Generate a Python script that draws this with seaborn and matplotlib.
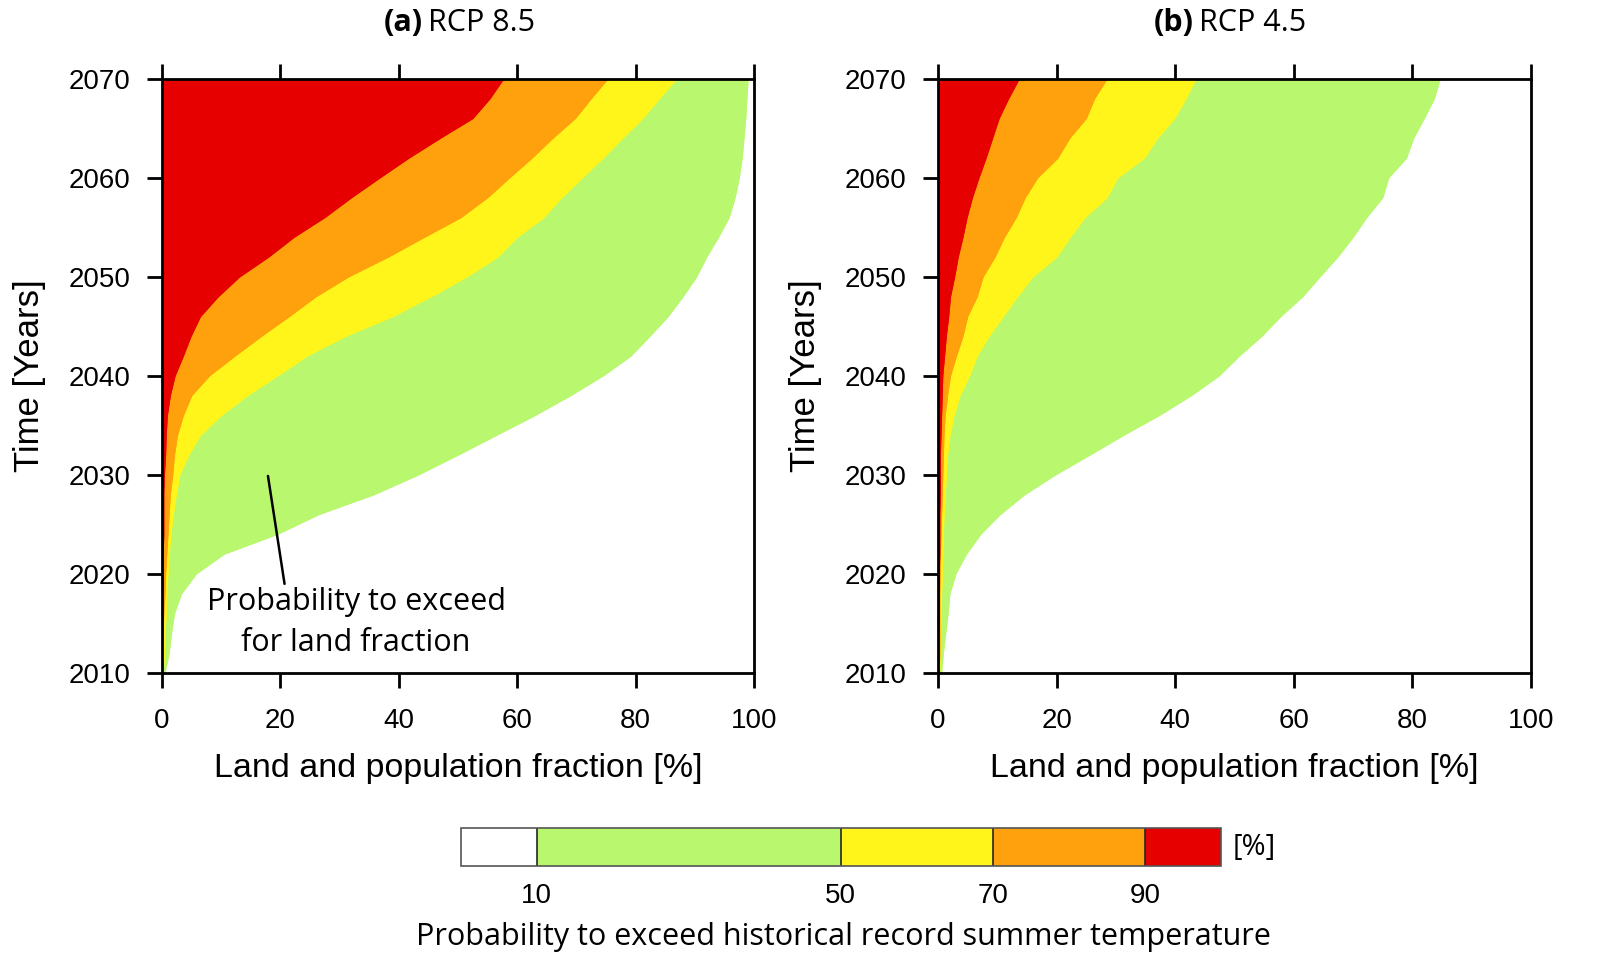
import numpy as np
import matplotlib
matplotlib.use("Agg")
import matplotlib.pyplot as plt
import matplotlib.colors as mcolors
import seaborn as sns

years = [2010, 2012, 2014, 2016, 2018, 2020, 2022, 2024, 2026, 2028, 2030,
         2032, 2034, 2036, 2038, 2040, 2042, 2044, 2046, 2048, 2050,
         2052, 2054, 2056, 2058, 2060, 2062, 2064, 2066, 2068, 2070]

# land fraction [%] where probability to exceed >= 10/50/70/90 %  -- RCP 8.5
rcp85_p10 = [0.5, 1.2, 1.6, 2.1, 3.3, 5.8, 10.5, 19.5, 26.5, 35.8, 43.3,
             50.0, 56.5, 63.0, 69.0, 74.5, 79.2, 82.4, 85.5, 88.0, 90.3,
             92.0, 94.0, 95.8, 96.8, 97.5, 98.0, 98.3, 98.6, 98.8, 99.0]
rcp85_p50 = [0.2, 0.4, 0.5, 0.7, 0.8, 1.0, 1.2, 1.5, 1.9, 2.4, 3.0,
             4.5, 6.5, 10.0, 14.4, 19.5, 24.5, 31.0, 39.0, 45.5, 51.5,
             56.7, 60.0, 64.5, 67.5, 71.0, 74.5, 77.8, 81.2, 84.0, 86.9]
rcp85_p70 = [0.0, 0.1, 0.2, 0.3, 0.5, 0.6, 0.8, 1.0, 1.2, 1.4, 1.8,
             2.1, 2.6, 3.6, 5.0, 8.0, 12.3, 16.8, 21.5, 26.0, 31.5,
             38.2, 44.3, 50.5, 55.0, 58.7, 62.5, 66.0, 69.8, 72.5, 75.3]
rcp85_p90 = [0.0, 0.0, 0.1, 0.1, 0.1, 0.2, 0.2, 0.3, 0.3, 0.3, 0.4,
             0.6, 0.7, 0.9, 1.4, 2.2, 3.6, 4.9, 6.5, 9.5, 13.1,
             18.0, 22.3, 27.5, 32.0, 36.8, 41.7, 47.0, 52.5, 55.4, 57.7]

# RCP 4.5
rcp45_p10 = [0.6, 0.9, 1.3, 1.7, 2.0, 3.0, 4.8, 7.2, 10.5, 14.6, 19.8,
             25.6, 31.3, 37.3, 42.7, 47.4, 50.8, 54.6, 57.8, 61.5, 64.4,
             67.4, 70.0, 72.3, 75.0, 76.0, 79.0, 80.2, 82.0, 83.7, 84.7]
rcp45_p50 = [0.3, 0.3, 0.4, 0.5, 0.6, 0.7, 0.8, 0.9, 1.0, 1.2, 1.4,
             1.6, 2.0, 2.7, 3.7, 5.3, 6.6, 8.6, 11.0, 13.4, 16.0,
             20.0, 22.3, 24.8, 28.5, 30.3, 34.8, 37.0, 39.9, 41.8, 43.5]
rcp45_p70 = [0.2, 0.3, 0.3, 0.3, 0.3, 0.4, 0.4, 0.5, 0.6, 0.7, 0.8,
             0.9, 1.0, 1.2, 1.6, 2.1, 3.1, 4.2, 5.0, 6.6, 7.6,
             9.6, 11.2, 13.2, 14.7, 16.8, 20.2, 22.2, 25.0, 26.4, 28.5]
rcp45_p90 = [0.1, 0.1, 0.1, 0.2, 0.2, 0.2, 0.3, 0.3, 0.3, 0.4, 0.4,
             0.4, 0.5, 0.6, 0.7, 0.8, 1.1, 1.4, 1.8, 2.1, 2.8,
             3.4, 4.2, 4.9, 5.8, 6.9, 8.1, 9.2, 10.3, 11.9, 13.7]

levels = [10, 50, 70, 90]
level_colors = ["#b9f86e", "#fff51a", "#ffa10c", "#e60000"]
x_ticks = [0, 20, 40, 60, 80, 100]
y_ticks = [2010, 2020, 2030, 2040, 2050, 2060, 2070]

sns.set_theme(style="ticks")
plt.rcParams['font.family'] = ['Liberation Sans', 'DejaVu Sans']
plt.rcParams['text.color'] = 'black'
plt.rcParams['axes.labelcolor'] = 'black'
plt.rcParams['xtick.color'] = 'black'
plt.rcParams['ytick.color'] = 'black'
title_font = ['Open Sans', 'DejaVu Sans']

fig = plt.figure(figsize=(16, 9.77), dpi=100)
ax1 = fig.add_axes([0.10125, 0.3112, 0.370, 0.608])
ax2 = fig.add_axes([0.58625, 0.3112, 0.3706, 0.608])

panels = [(ax1, [rcp85_p10, rcp85_p50, rcp85_p70, rcp85_p90]),
          (ax2, [rcp45_p10, rcp45_p50, rcp45_p70, rcp45_p90])]

for ax, bounds in panels:
    for b, col in zip(bounds, level_colors):
        ax.fill_betweenx(years, 0, b, color=col, lw=0, zorder=2)
        sns.lineplot(x=b, y=years, orient="y", color=col, lw=0.8, ax=ax,
                     zorder=2, estimator=None, sort=False)
    ax.set_xlim(0, 100)
    ax.set_ylim(2010, 2070)
    ax.set_xticks(x_ticks)
    ax.set_yticks(y_ticks)
    ax.tick_params(axis='both', direction='out', length=11, width=2,
                   labelsize=20, color='black', labelcolor='black')
    ax.tick_params(axis='y', pad=12)
    ax.tick_params(axis='x', top=True, labeltop=False, pad=14)
    for sp in ax.spines.values():
        sp.set_linewidth(2)
        sp.set_color('black')
        sp.set_zorder(5)
    ax.set_xlabel("Land and population fraction [%]", fontsize=24.5, labelpad=14)
    ax.set_ylabel("Time [Years]", fontsize=25, labelpad=16)

# panel titles
fig.text(0.2644, 0.9765, "(a)", fontsize=22, fontweight='bold', ha='right',
         va='center', family=title_font)
fig.text(0.2675, 0.9765, "RCP 8.5", fontsize=22, ha='left', va='center',
         family=title_font)
fig.text(0.7462, 0.9765, "(b)", fontsize=22, fontweight='bold', ha='right',
         va='center', family=title_font)
fig.text(0.7494, 0.9765, "RCP 4.5", fontsize=22, ha='left', va='center',
         family=title_font)

# annotation in panel a
ax1.annotate("", xy=(17.9, 2029.9), xytext=(20.7, 2019.0),
             arrowprops=dict(arrowstyle='-', color='black', lw=1.8,
                             shrinkA=0, shrinkB=0))
ax1.text(32.8, 2015.1, "Probability to exceed\nfor land fraction",
         ha='center', va='center', fontsize=22, family=title_font,
         linespacing=1.5)

# colour bar
cax = fig.add_axes([0.288, 0.1136, 0.475, 0.0389])
cmap = mcolors.ListedColormap(["white"] + level_colors)
bnds = [0] + levels + [100]
norm = mcolors.BoundaryNorm(bnds, cmap.N)
cb = matplotlib.colorbar.ColorbarBase(cax, cmap=cmap, norm=norm,
                                      boundaries=bnds, spacing='proportional',
                                      orientation='horizontal', drawedges=True,
                                      ticks=levels)
cb.outline.set_linewidth(1.2)
cb.outline.set_edgecolor('#555555')
cb.dividers.set_linewidth(1.2)
cax.minorticks_off()
cax.tick_params(length=0, labelsize=20, pad=12, labelcolor='black')
cax.text(1.016, 0.5, "[%]", transform=cax.transAxes, fontsize=21,
         va='center', ha='left', family=title_font)
fig.text(0.527, 0.041, "Probability to exceed historical record summer temperature",
         fontsize=22, ha='center', va='center', family=title_font)

fig.savefig("out.png", dpi=100, facecolor='white')
